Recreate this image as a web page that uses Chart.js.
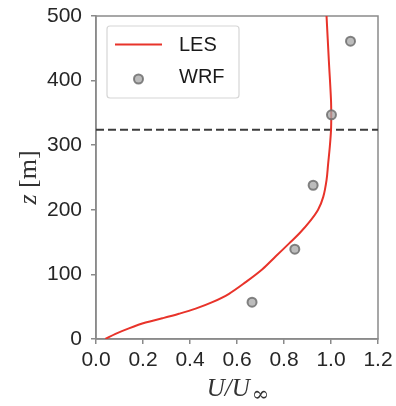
<!DOCTYPE html>
<html>
<head>
<meta charset="utf-8">
<script src="https://cdn.jsdelivr.net/npm/chart.js@4.4.0/dist/chart.umd.min.js"></script>
<style>
  html, body { margin: 0; padding: 0; background: #fff; }
  #profileChart { display: block; }
</style>
</head>
<body>
<canvas id="profileChart" width="396" height="406"></canvas>
<script>
// LES mean velocity profile
const lesZ = [0, 8, 16.5, 25.5, 32, 39, 47, 57, 70, 88, 108, 128, 148, 164, 182, 200, 220, 246, 272, 298, 323, 344, 370, 430, 500];
const lesU = [0.040, 0.083, 0.140, 0.211, 0.282, 0.353, 0.424, 0.495, 0.566, 0.637, 0.708, 0.765, 0.822, 0.867, 0.910, 0.945, 0.967, 0.981, 0.988, 0.995, 1.000, 1.001, 1.000, 0.991, 0.981];

// WRF samples
const wrfZ = [57, 139, 238, 347, 461];
const wrfU = [0.664, 0.846, 0.924, 1.002, 1.083];

// boundary layer height (dashed line)
const blHeight = 324;

const xTicks = [0.0, 0.2, 0.4, 0.6, 0.8, 1.0, 1.2];
const yTicks = [0, 100, 200, 300, 400, 500];

const tickFont = { family: '"Liberation Sans", Arial, sans-serif', size: 21 };
const axisGray = '#8a8a8a';
const lesRed = '#e8332a';

// frame around the plot area (matplotlib style box)
const frameBox = {
  id: 'frameBox',
  beforeDatasetsDraw(chart) {
    const { ctx, chartArea: a } = chart;
    ctx.save();
    ctx.strokeStyle = axisGray;
    ctx.lineWidth = 1.5;
    ctx.strokeRect(a.left, a.top, a.right - a.left, a.bottom - a.top);
    ctx.restore();
  }
};

// legend drawn inside the axes, upper left
const innerLegend = {
  id: 'innerLegend',
  afterDraw(chart) {
    const { ctx, chartArea: a } = chart;
    const les = chart.data.datasets[0];
    const wrf = chart.data.datasets[1];
    const x0 = a.left + 11, y0 = a.top + 10, w = 132, h = 72;
    ctx.save();
    ctx.fillStyle = 'rgba(255,255,255,0.85)';
    ctx.strokeStyle = '#d6d6d6';
    ctx.lineWidth = 1.2;
    ctx.beginPath();
    ctx.roundRect(x0, y0, w, h, 3);
    ctx.fill();
    ctx.stroke();

    ctx.strokeStyle = les.borderColor;
    ctx.lineWidth = les.borderWidth;
    ctx.beginPath();
    ctx.moveTo(x0 + 8, y0 + 18.5);
    ctx.lineTo(x0 + 55, y0 + 18.5);
    ctx.stroke();

    ctx.fillStyle = wrf.backgroundColor;
    ctx.strokeStyle = wrf.borderColor;
    ctx.lineWidth = wrf.borderWidth;
    ctx.beginPath();
    ctx.arc(x0 + 31.5, y0 + 53, wrf.pointRadius, 0, Math.PI * 2);
    ctx.fill();
    ctx.stroke();

    ctx.fillStyle = '#1a1a1a';
    ctx.font = '20px "Liberation Sans", Arial, sans-serif';
    ctx.textBaseline = 'middle';
    ctx.textAlign = 'left';
    ctx.fillText(les.label, x0 + 72, y0 + 19);
    ctx.fillText(wrf.label, x0 + 72, y0 + 51);
    ctx.restore();
  }
};

// axis titles with math-style italics and subscript
const axisTitles = {
  id: 'axisTitles',
  afterDraw(chart) {
    const { ctx, chartArea: a } = chart;
    ctx.save();
    ctx.fillStyle = '#333';
    ctx.textBaseline = 'alphabetic';
    ctx.textAlign = 'left';

    // x: U/U_inf
    const itFont = 'italic 25px "Liberation Serif", "Times New Roman", serif';
    const subFont = '21px "DejaVu Serif", serif';
    ctx.font = itFont;
    const wU = ctx.measureText('U').width;
    const wS = ctx.measureText('/').width;
    ctx.font = subFont;
    const wInf = ctx.measureText('\u221E').width;
    const gap = 2;
    const total = wU + wS + wU + gap + wInf;
    let x = (a.left + a.right) / 2 - total / 2 + 1;
    const base = 396;
    ctx.font = itFont;
    ctx.fillText('U', x, base); x += wU;
    ctx.fillText('/', x, base); x += wS;
    ctx.fillText('U', x, base); x += wU + gap;
    ctx.font = subFont;
    ctx.fillText('\u221E', x, base + 5);

    // y: z [m]
    ctx.translate(36, (a.top + a.bottom) / 2);
    ctx.rotate(-Math.PI / 2);
    const zFont = 'italic 26px "Liberation Serif", "Times New Roman", serif';
    const mFont = '26px "Liberation Serif", "Times New Roman", serif';
    ctx.font = zFont;
    const wz = ctx.measureText('z').width;
    ctx.font = mFont;
    const wm = ctx.measureText(' [m]').width;
    let u = -(wz + wm) / 2;
    ctx.font = zFont;
    ctx.fillText('z', u, 0); u += wz;
    ctx.font = mFont;
    ctx.fillText(' [m]', u, 0);
    ctx.restore();
  }
};

new Chart(document.getElementById('profileChart'), {
  type: 'scatter',
  data: {
    datasets: [
      {
        label: 'LES',
        data: lesU.map((u, i) => ({ x: u, y: lesZ[i] })),
        showLine: true,
        borderColor: lesRed,
        backgroundColor: lesRed,
        borderWidth: 2,
        pointRadius: 0,
        tension: 0.35,
        order: 1
      },
      {
        label: 'WRF',
        data: wrfU.map((u, i) => ({ x: u, y: wrfZ[i] })),
        backgroundColor: 'rgba(165,165,165,0.75)',
        borderColor: 'rgba(110,110,110,0.85)',
        borderWidth: 2,
        pointRadius: 4.5,
        order: 0
      },
      {
        label: 'BL height',
        data: [{ x: xTicks[0], y: blHeight }, { x: xTicks[xTicks.length - 1], y: blHeight }],
        showLine: true,
        borderColor: '#3c3c3c',
        borderWidth: 2,
        borderDash: [8, 4],
        pointRadius: 0,
        order: 2
      }
    ]
  },
  options: {
    responsive: false,
    animation: false,
    devicePixelRatio: 1,
    layout: { padding: { top: 16, right: 18, left: 0, bottom: 0 } },
    plugins: {
      legend: { display: false },
      tooltip: { enabled: false }
    },
    scales: {
      x: {
        type: 'linear',
        min: xTicks[0],
        max: xTicks[xTicks.length - 1],
        afterBuildTicks: s => { s.ticks = xTicks.map(v => ({ value: v })); },
        afterFit: s => { s.height = 67; s.paddingLeft = 0; s.paddingRight = 0; },
        grid: { drawOnChartArea: false, drawTicks: true, tickLength: 5, color: axisGray, lineWidth: 1.5 },
        border: { display: true, color: axisGray, width: 1.5 },
        ticks: {
          font: tickFont,
          color: '#262626',
          padding: 4,
          maxRotation: 0,
          callback: v => Number(v).toFixed(1)
        }
      },
      y: {
        type: 'linear',
        min: yTicks[0],
        max: yTicks[yTicks.length - 1],
        afterBuildTicks: s => { s.ticks = yTicks.map(v => ({ value: v })); },
        afterFit: s => { s.width = 96; s.paddingTop = 0; s.paddingBottom = 0; },
        grid: { drawOnChartArea: false, drawTicks: true, tickLength: 5, color: axisGray, lineWidth: 1.5 },
        border: { display: true, color: axisGray, width: 1.5 },
        ticks: {
          font: tickFont,
          color: '#262626',
          padding: 9,
          callback: v => String(v)
        }
      }
    }
  },
  plugins: [frameBox, innerLegend, axisTitles]
});
</script>
</body>
</html>
